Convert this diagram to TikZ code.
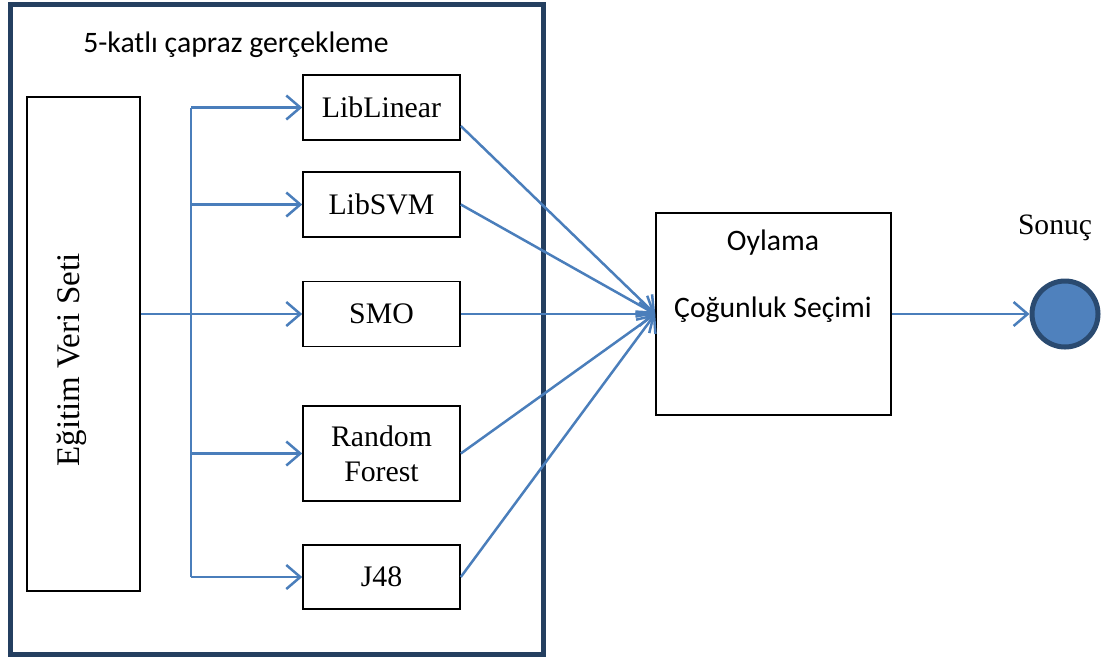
\documentclass[tikz,border=0pt]{standalone}
\usepackage{fontspec}
\setmainfont{Liberation Serif}
\newfontfamily\calibri{Carlito}
\usetikzlibrary{arrows.meta,calc}

\definecolor{framenavy}{HTML}{243F60}
\definecolor{linkblue}{HTML}{4A7EBB}
\definecolor{dotfill}{HTML}{4F81BD}
\definecolor{dotedge}{HTML}{2A4A70}

\tikzset{
  algbox/.style={draw=black, line width=1.6pt, minimum width=157pt, inner sep=0pt,
    align=center, font=\fontsize{29.8}{35}\selectfont},
  link/.style={draw=linkblue, line width=2.5pt},
  linkarrow/.style={link, -{Straight Barb[length=14pt,width=24pt,line width=2.5pt]}},
  sanslabel/.style={font=\calibri\fontsize{29.7}{34}\selectfont, inner sep=0pt},
}

\begin{document}
\begin{tikzpicture}[x=1pt,y=-1pt]
  \useasboundingbox (0,0) rectangle (1102,657);

  % cross-validation frame
  \draw[framenavy, line width=5pt] (10,4) rectangle (543,654);
  \node[sanslabel] (title) at (236,45) {5-katlı çapraz gerçekleme};

  % training data
  \node[draw=black, line width=1.6pt, minimum width=113pt, minimum height=494pt, inner sep=0pt]
    (data) at (83.5,344) {};
  \node[rotate=90, font=\fontsize{33}{38}\selectfont, inner sep=0pt] (datalabel) at (72,360) {Eğitim Veri Seti};

  % classifiers
  \node[algbox, minimum height=65pt] (liblin) at (381.5,107.5) {LibLinear};
  \node[algbox, minimum height=65pt] (libsvm) at (381.5,204.5) {LibSVM};
  \node[algbox, minimum height=65pt] (smo)    at (381.5,314)   {SMO};
  \node[algbox, minimum height=95pt] (rf)     at (381.5,453.5) {Random\\Forest};
  \node[algbox, minimum height=64pt] (j48)    at (381.5,577)   {J48};

  % voting
  \node[draw=black, line width=1.6pt, minimum width=235pt, minimum height=202pt, inner sep=0pt]
    (vote) at (773.5,314) {};
  \node[sanslabel] (votetitle) at (773,243) {Oylama};
  \node[sanslabel] (votesub)   at (773,310) {Çoğunluk Seçimi};

  % result
  \node[circle, draw=dotedge, fill=dotfill, line width=5pt, minimum size=66pt, inner sep=0pt]
    (result) at (1065,314) {};
  \node[font=\fontsize{29.6}{35}\selectfont, inner sep=0pt] (resultlabel) at (1055,228) {Sonuç};

  % distribution bus
  \coordinate (bus) at (191,0);
  \draw[link] (bus |- liblin.west) -- (bus |- j48.west);
  \draw[linkarrow] (data.east |- smo.west) -- (smo.west);
  \draw[linkarrow] (bus |- liblin.west) -- (liblin.west);
  \draw[linkarrow] (bus |- libsvm.west) -- (libsvm.west);
  \draw[linkarrow] (bus |- rf.west) -- (rf.west);
  \draw[linkarrow] (bus |- j48.west) -- (j48.west);

  % classifier outputs to voting
  \draw[linkarrow] ([yshift=-18.5pt]liblin.east) -- (vote.west);
  \draw[linkarrow] (libsvm.east) -- (vote.west);
  \draw[linkarrow] (smo.east) -- (vote.west);
  \draw[linkarrow] (rf.east) -- (vote.west);
  \draw[linkarrow] (j48.east) -- (vote.west);

  % voting to result
  \draw[linkarrow] (vote.east) -- (result.west);
\end{tikzpicture}
\end{document}
